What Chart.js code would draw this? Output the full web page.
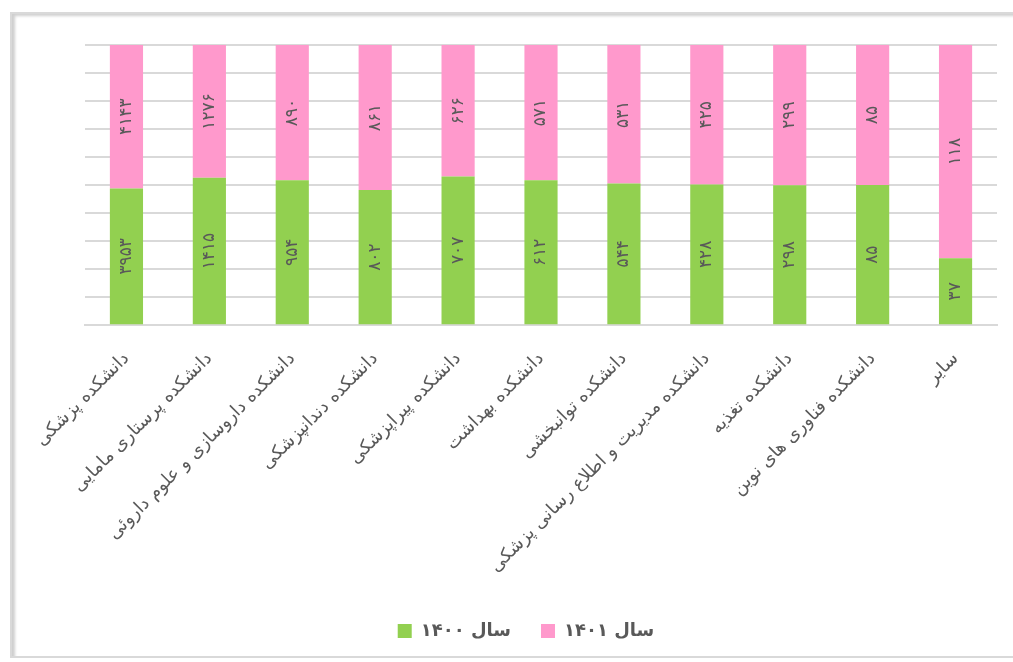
<!DOCTYPE html>
<html lang="fa">
<head>
<meta charset="utf-8">
<title>نمودار دانشکده ها</title>
<script src="https://cdn.jsdelivr.net/npm/chart.js@4.4.1/dist/chart.umd.min.js"></script>
<style>
    html, body { margin: 0; padding: 0; background: #fff; }
    body { width: 1013px; height: 662px; position: relative; overflow: hidden; }
    .frame {
        position: absolute; left: 10px; top: 12px; width: 1020px; height: 646px;
        border: 2px solid #d9d9d9;
        box-shadow: inset 4px 3px 3px -1px #cfcfcf;
        box-sizing: border-box;
    }
    .chart-wrap { position: absolute; left: 0; top: 0; width: 1013px; height: 662px; }
</style>
</head>
<body>
<div class="frame"></div>
<div class="chart-wrap"><canvas id="chart"></canvas></div>
<script>
// دسته ها (دانشکده ها)
const categories = [
    'دانشکده پزشکی',
    'دانشکده پرستاری مامایی',
    'دانشکده داروسازی و علوم داروئی',
    'دانشکده دندانپزشکی',
    'دانشکده پیراپزشکی',
    'دانشکده بهداشت',
    'دانشکده توانبخشی',
    'دانشکده مدیریت و اطلاع رسانی پزشکی',
    'دانشکده تغذیه',
    'دانشکده فناوری های نوین',
    'سایر'
];

// مقادیر هر سال
const year1400 = [3953, 1415, 954, 802, 707, 612, 544, 428, 298, 85, 37];
const year1401 = [4143, 1276, 890, 861, 626, 571, 531, 425, 299, 85, 118];

const seriesNames = ['سال ۱۴۰۰', 'سال ۱۴۰۱'];
const seriesColors = ['#92D050', '#FF99CC'];

// نمایش اعداد فارسی
const toFa = (n) => String(n).replace(/\d/g, d => '۰۱۲۳۴۵۶۷۸۹'[d]);

// سهم هر سال از مجموع (نمودار ۱۰۰٪)
const totals = year1400.map((v, i) => v + year1401[i]);
const share = (arr) => arr.map((v, i) => v / totals[i]);

const rawValues = [year1400, year1401];

// برچسب های عمودی روی ستون ها
const barLabels = {
    id: 'barLabels',
    afterDatasetsDraw(chart) {
        const ctx = chart.ctx;
        ctx.save();
        ctx.font = '17px "DejaVu Sans"';
        ctx.fillStyle = '#595959';
        ctx.textAlign = 'center';
        ctx.textBaseline = 'middle';
        chart.data.datasets.forEach((ds, di) => {
            chart.getDatasetMeta(di).data.forEach((bar, i) => {
                const cy = (bar.y + bar.base) / 2;
                ctx.save();
                ctx.translate(bar.x, cy);
                ctx.rotate(-Math.PI / 2);
                ctx.fillText(toFa(rawValues[di][i]), 0, 0);
                ctx.restore();
            });
        });
        ctx.restore();
    }
};

document.addEventListener('DOMContentLoaded', () => {
    const ctx = document.getElementById('chart').getContext('2d');

    new Chart(ctx, {
        type: 'bar',
        data: {
            labels: categories,
            datasets: [
                {
                    label: seriesNames[0],
                    data: share(year1400),
                    backgroundColor: seriesColors[0],
                    barPercentage: 0.4,
                    categoryPercentage: 1
                },
                {
                    label: seriesNames[1],
                    data: share(year1401),
                    backgroundColor: seriesColors[1],
                    barPercentage: 0.4,
                    categoryPercentage: 1
                }
            ]
        },
        options: {
            responsive: true,
            maintainAspectRatio: false,
            animation: false,
            layout: { padding: { left: 55, right: 16, top: 45, bottom: 12 } },
            scales: {
                x: {
                    stacked: true,
                    grid: { display: false },
                    border: { color: '#d9d9d9', width: 2 },
                    ticks: {
                        autoSkip: false,
                        minRotation: 45,
                        maxRotation: 45,
                        padding: 15,
                        color: '#595959',
                        font: { family: '"DejaVu Sans"', size: 18 }
                    }
                },
                y: {
                    stacked: true,
                    min: 0,
                    max: 1,
                    border: { display: false },
                    grid: { color: '#d9d9d9', lineWidth: 2, drawTicks: false },
                    ticks: { display: false, stepSize: 0.1 },
                    afterFit: (scale) => { scale.width = 30; }
                }
            },
            plugins: {
                legend: {
                    position: 'bottom',
                    labels: {
                        boxWidth: 14,
                        boxHeight: 14,
                        padding: 30,
                        color: '#595959',
                        font: { family: '"DejaVu Sans"', size: 18, weight: 'bold' }
                    }
                },
                tooltip: { enabled: false }
            }
        },
        plugins: [barLabels]
    });
});
</script>
</body>
</html>
